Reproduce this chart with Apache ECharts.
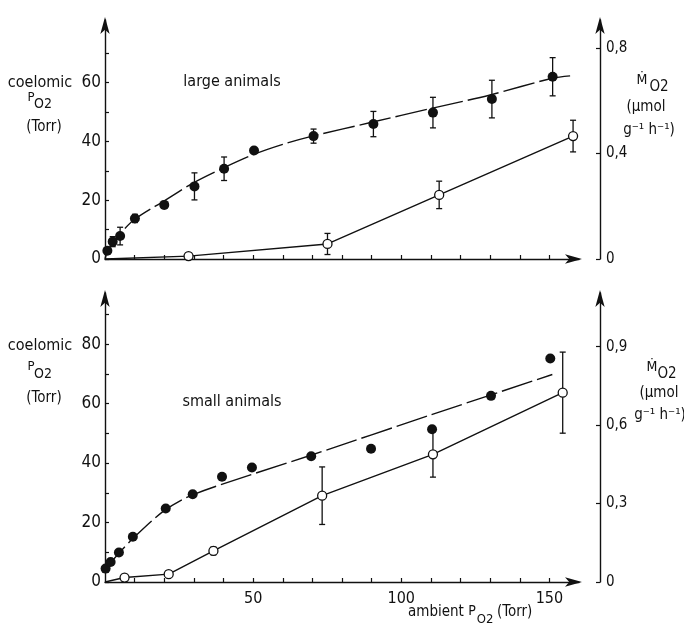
<!DOCTYPE html>
<html>
<head>
<meta charset="utf-8">
<script src="https://cdn.jsdelivr.net/npm/echarts@6/dist/echarts.min.js"></script>
<style>
  html, body { margin: 0; padding: 0; background: #fff; }
  #chart { width: 684px; height: 626px; }
</style>
</head>
<body>
<div id="chart"></div>
<script>
// large animals: coelomic PO2 (filled, left axis) and MO2 (open, right axis)
const largeCoelX = [0.8, 2.6, 5.1, 10.1, 20, 30.2, 40.2, 50.3, 70.4, 90.6, 110.7, 130.6, 151.1];
const largeCoelY = [2.8, 5.9, 7.8, 13.8, 18.4, 24.7, 30.7, 36.9, 41.8, 45.9, 49.8, 54.4, 62.0];
const largeCoelErr = [0.8, 1.7, 3, 1.4, 1.2, 4.6, 4, 1, 2.4, 4.3, 5.2, 6.4, 6.5];
const largeFitX = [0, 1, 3, 5, 10, 20, 30, 40, 50, 60, 70, 90, 110, 130, 151, 157];
const largeFitY = [0, 3, 6, 8.5, 13.5, 19.8, 26, 31, 35.5, 39, 41.8, 46.5, 51.2, 55.8, 61.5, 62.3];
const largeMO2X = [28.2, 75.1, 112.8, 158];
const largeMO2Y = [0.011, 0.057, 0.243, 0.466];
const largeMO2Err = [0.012, 0.04, 0.052, 0.06];

// small animals
const smallCoelX = [0.2, 1.9, 4.7, 9.4, 20.5, 29.6, 39.5, 49.6, 69.6, 89.8, 110.4, 130.3, 150.3];
const smallCoelY = [4.5, 6.7, 9.9, 15.2, 24.7, 29.5, 35.4, 38.5, 42.3, 44.8, 51.4, 62.6, 75.2];
const smallFitX = [0, 2, 5, 10, 20, 30, 70, 110, 151];
const smallFitY = [3.5, 6.5, 10, 15.2, 24, 29.5, 42.8, 56.2, 69.8];
const smallMO2X = [6.6, 21.5, 36.6, 73.3, 110.7, 154.5];
const smallMO2Y = [0.017, 0.03, 0.119, 0.33, 0.488, 0.724];
const smallMO2Err = [0.012, 0.012, 0.015, 0.11, 0.087, 0.155];

const origin = [0, 0];

// ticks / labels
const xTicks = [10, 20, 30, 40, 50, 60, 70, 80, 90, 100, 110, 120, 130, 140, 150];
const xLabelsBottom = [50, 100, 150];
const topLeftTicks = [0, 10, 20, 30, 40, 50, 60, 70];
const topLeftLabels = [0, 20, 40, 60];
const topRightTicks = [0, 0.4, 0.8];
const botLeftTicks = [0, 10, 20, 30, 40, 50, 60, 70, 80, 90];
const botLeftLabels = [0, 20, 40, 60, 80];
const botRightTicks = [0, 0.3, 0.6, 0.9];

const ink = '#111';
const font = '"DejaVu Sans Condensed", "Liberation Sans Narrow", "DejaVu Sans", sans-serif';

const chart = echarts.init(document.getElementById('chart'), null, { renderer: 'canvas' });

const zip = (xs, ys) => xs.map((x, i) => [x, ys[i]]);
const comma = v => String(v).replace('.', ',');

function axisLine() {
  return {
    show: true,
    symbol: ['none', 'arrow'],
    symbolSize: [7, 17],
    symbolOffset: [0, 3],
    lineStyle: { color: ink, width: 1.4 }
  };
}

function xAxis(gridIndex, labels) {
  return {
    type: 'value', gridIndex, min: 0, max: 160,
    axisLine: axisLine(),
    axisTick: { show: true, inside: true, length: 4, customValues: xTicks, lineStyle: { color: ink, width: 1.2 } },
    axisLabel: labels ? { show: true, customValues: labels, color: ink, fontSize: 16, fontFamily: font, margin: 9 } : { show: false },
    splitLine: { show: false }
  };
}

function yAxis(gridIndex, max, ticks, labels, right) {
  return {
    type: 'value', gridIndex, min: 0, max,
    position: right ? 'right' : 'left',
    offset: right ? 21 : 0,
    axisLine: axisLine(),
    axisTick: { show: true, inside: true, length: 4, customValues: ticks, lineStyle: { color: ink, width: 1.2 } },
    axisLabel: {
      show: true, customValues: labels, color: ink,
      fontSize: right ? 15 : 17, fontFamily: font, margin: right ? 6 : 4,
      formatter: v => comma(v)
    },
    splitLine: { show: false }
  };
}

function errorBars(xs, ys, es, xi, yi) {
  return {
    type: 'custom', xAxisIndex: xi, yAxisIndex: yi, z: 3,
    data: xs.map((x, i) => [x, ys[i] - es[i], ys[i] + es[i]]),
    encode: { x: 0, y: [1, 2] },
    renderItem: (params, api) => {
      const lo = api.coord([api.value(0), api.value(1)]);
      const hi = api.coord([api.value(0), api.value(2)]);
      const w = 3;
      const st = { stroke: ink, lineWidth: 1.3 };
      return {
        type: 'group',
        children: [
          { type: 'line', shape: { x1: lo[0], y1: lo[1], x2: hi[0], y2: hi[1] }, style: st },
          { type: 'line', shape: { x1: lo[0] - w, y1: lo[1], x2: lo[0] + w, y2: lo[1] }, style: st },
          { type: 'line', shape: { x1: hi[0] - w, y1: hi[1], x2: hi[0] + w, y2: hi[1] }, style: st }
        ]
      };
    }
  };
}

function line(data, xi, yi, dashed, smooth) {
  return {
    type: 'line', xAxisIndex: xi, yAxisIndex: yi, data, z: 2,
    showSymbol: false, smooth: smooth || false, silent: true,
    lineStyle: { color: ink, width: 1.4, type: dashed ? [32, 5] : 'solid', opacity: 1 }
  };
}

function dots(data, xi, yi, open) {
  return {
    type: 'scatter', xAxisIndex: xi, yAxisIndex: yi, data, z: 4,
    symbol: 'circle', symbolSize: open ? 9 : 10,
    itemStyle: open
      ? { color: '#fff', borderColor: ink, borderWidth: 1.3, opacity: 1 }
      : { color: ink, opacity: 1 }
  };
}

function txt(x, y, text, size, align) {
  return {
    type: 'text', x, y, silent: true,
    style: { text, fill: ink, fontSize: size, fontFamily: font, align: align || 'center', verticalAlign: 'middle' }
  };
}

const option = {
  backgroundColor: '#fff',
  animation: false,
  textStyle: { fontFamily: font, color: ink },
  grid: [
    { left: 105, right: 105, top: 20, bottom: 367 },
    { left: 105, right: 105, top: 293, bottom: 44 }
  ],
  xAxis: [xAxis(0, null), xAxis(1, xLabelsBottom)],
  yAxis: [
    yAxis(0, 81.3, topLeftTicks, topLeftLabels, false),
    yAxis(0, 0.906, topRightTicks, topRightTicks, true),
    yAxis(1, 97.2, botLeftTicks, botLeftLabels, false),
    yAxis(1, 1.105, botRightTicks, botRightTicks, true)
  ],
  series: [
    // top panel
    line(zip(largeFitX, largeFitY), 0, 0, true, 0.3),
    line([origin].concat(zip(largeMO2X, largeMO2Y)), 0, 1, false),
    errorBars(largeCoelX, largeCoelY, largeCoelErr, 0, 0),
    errorBars(largeMO2X, largeMO2Y, largeMO2Err, 0, 1),
    dots(zip(largeCoelX, largeCoelY), 0, 0, false),
    dots(zip(largeMO2X, largeMO2Y), 0, 1, true),
    // bottom panel
    line(zip(smallFitX, smallFitY), 1, 2, true, 0.3),
    line([origin].concat(zip(smallMO2X, smallMO2Y)), 1, 3, false),
    errorBars(smallMO2X, smallMO2Y, smallMO2Err, 1, 3),
    dots(zip(smallCoelX, smallCoelY), 1, 2, false),
    dots(zip(smallMO2X, smallMO2Y), 1, 3, true)
  ],
  graphic: [
    // top panel labels
    txt(40, 83, 'coelomic', 16),
    txt(31, 98, 'P', 13),
    txt(43, 104, 'O2', 14),
    txt(44, 127, '(Torr)', 15),
    txt(232, 82, 'large animals', 16),
    txt(642, 80, 'Ṁ', 14),
    txt(659, 87, 'O2', 15),
    txt(646, 107, '(µmol', 15),
    txt(649, 130, 'g⁻¹ h⁻¹)', 15),
    // bottom panel labels
    txt(40, 346, 'coelomic', 16),
    txt(31, 367, 'P', 13),
    txt(43, 374, 'O2', 14),
    txt(44, 398, '(Torr)', 15),
    txt(232, 402, 'small animals', 16),
    txt(652, 367, 'Ṁ', 14),
    txt(667, 374, 'O2', 15),
    txt(659, 393, '(µmol', 15),
    txt(660, 415, 'g⁻¹ h⁻¹)', 15),
    // x axis name
    txt(408, 612, 'ambient', 15, 'left'),
    txt(472, 611, 'P', 14),
    txt(485, 620, 'O2', 13),
    txt(497, 612, '(Torr)', 15, 'left')
  ]
};

chart.setOption(option);
</script>
</body>
</html>
